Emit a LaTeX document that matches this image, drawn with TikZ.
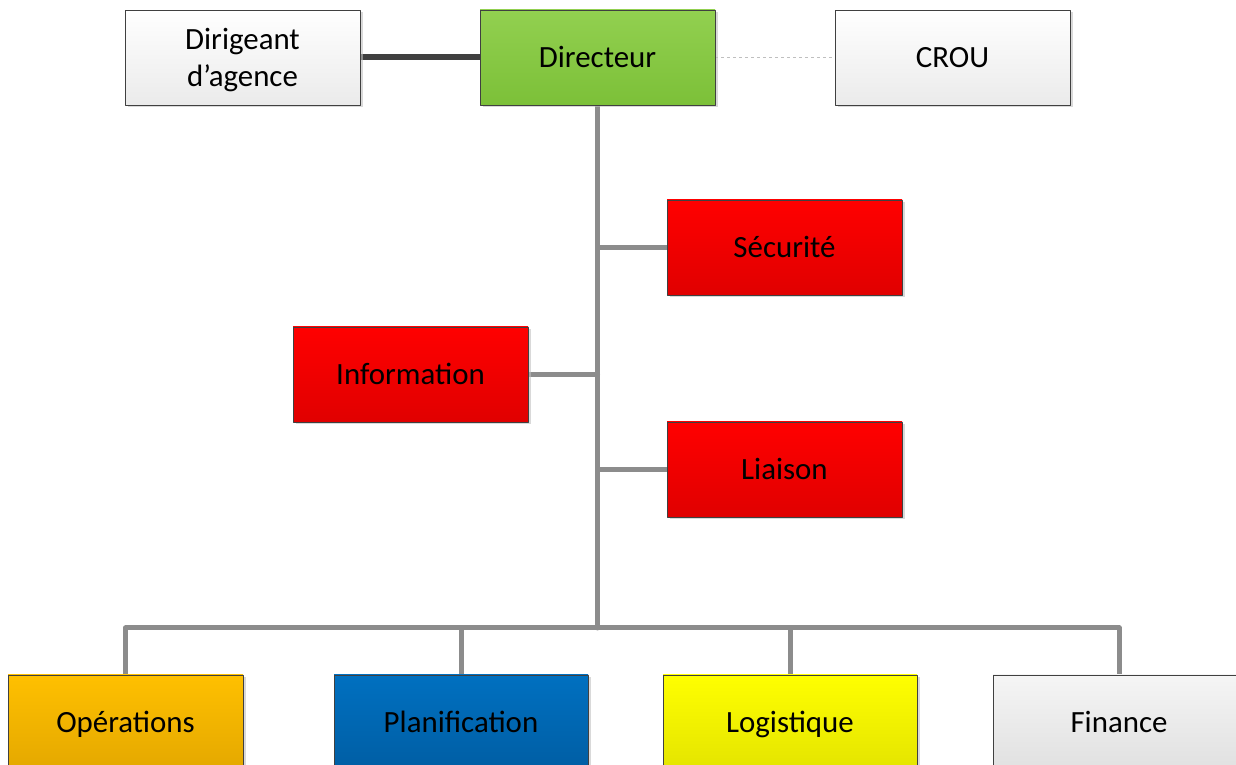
\documentclass[tikz,border=0pt]{standalone}
\usepackage{fontspec}
\setmainfont{Carlito}
\usepackage[x11names, svgnames, rgb]{xcolor}
\usepackage{tikz}
\usetikzlibrary{calc, backgrounds, positioning, shadows}

\definecolor{boxline}{HTML}{404040}
\definecolor{linkgray}{HTML}{8C8C8C}
\definecolor{linkdark}{HTML}{404040}

\tikzset{
  unit/.style={draw=boxline, line width=.8bp, minimum width=235bp, minimum height=95bp,
    inner sep=0pt, align=center, font=\fontsize{31}{37}\selectfont,
    text height=22bp, text depth=2bp,
    drop shadow={shadow xshift=2.5bp, shadow yshift=-2.5bp, fill=black!25, opacity=.6}},
  whitebox/.style={unit, top color=white, bottom color=black!8},
  greenbox/.style={unit, top color={rgb,255:red,146;green,208;blue,80}, bottom color={rgb,255:red,124;green,192;blue,56}},
  redbox/.style={unit, top color={rgb,255:red,255;green,0;blue,0}, bottom color={rgb,255:red,224;green,0;blue,0}},
  orangebox/.style={unit, top color={rgb,255:red,255;green,192;blue,0}, bottom color={rgb,255:red,228;green,168;blue,0}},
  bluebox/.style={unit, top color={rgb,255:red,0;green,112;blue,192}, bottom color={rgb,255:red,0;green,94;blue,164}},
  yellowbox/.style={unit, top color={rgb,255:red,255;green,255;blue,0}, bottom color={rgb,255:red,228;green,228;blue,0}},
  greybox/.style={unit, top color=black!4, bottom color=black!12},
  link/.style={draw=linkgray, line width=5bp, line cap=round, line join=round},
  strong link/.style={draw=linkdark, line width=6bp, line cap=round},
  thin link/.style={draw=black!25, line width=.6bp, dashed},
}

\begin{document}
\begin{tikzpicture}[line join=bevel]
  \clip (0bp,0bp) rectangle (1236bp,765bp);
%%
  % Node: Dirigeant
  \node[whitebox, text height=, text depth=0bp] (dirigeant) at (242.5bp,707.5bp) {Dirigeant\\d’agence};
  % Node: Directeur
  \node[greenbox] (directeur) at (597.5bp,707.5bp) {Directeur};
  % Node: CROU
  \node[whitebox] (crou) at (952.5bp,707.5bp) {CROU};
  % Node: Securite
  \node[redbox] (securite) at (784.5bp,517.5bp) {Sécurité};
  % Node: Information
  \node[redbox] (information) at (410.5bp,390.5bp) {Information};
  % Node: Liaison
  \node[redbox] (liaison) at (784.5bp,295.5bp) {Liaison};
  % Node: Operations
  \node[orangebox] (operations) at (125.5bp,42.5bp) {Opérations};
  % Node: Planification
  \node[bluebox, minimum width=254bp] (planification) at (461bp,42.5bp) {Planification};
  % Node: Logistique
  \node[yellowbox, minimum width=254bp] (logistique) at (790bp,42.5bp) {Logistique};
  % Node: Finance
  \node[greybox, minimum width=252bp] (finance) at (1119bp,42.5bp) {Finance};
%
  \coordinate (bus) at (597.5bp,137bp);
  \begin{scope}[on background layer]
  % Edge: Dirigeant -- Directeur
  \draw[strong link] (dirigeant.east) -- (directeur.west);
  % Edge: Directeur -- CROU
  \draw[thin link] (directeur.east) -- (crou.west);
  % Edge: Directeur -- bus
  \draw[link] (directeur.south) -- (bus);
  % Edge: Directeur -- Securite, Information, Liaison
  \draw[link] (securite.west) -- (securite.west -| bus);
  \draw[link] (information.east) -- (information.east -| bus);
  \draw[link] (liaison.west) -- (liaison.west -| bus);
  % Edge: bus -- Operations, Planification, Logistique, Finance
  \draw[link] (operations.north) |- (bus);
  \draw[link] (planification.north) -- (planification.north |- bus);
  \draw[link] (logistique.north) -- (logistique.north |- bus);
  \draw[link] (finance.north) |- (bus);
  \end{scope}
%
\end{tikzpicture}
\end{document}
